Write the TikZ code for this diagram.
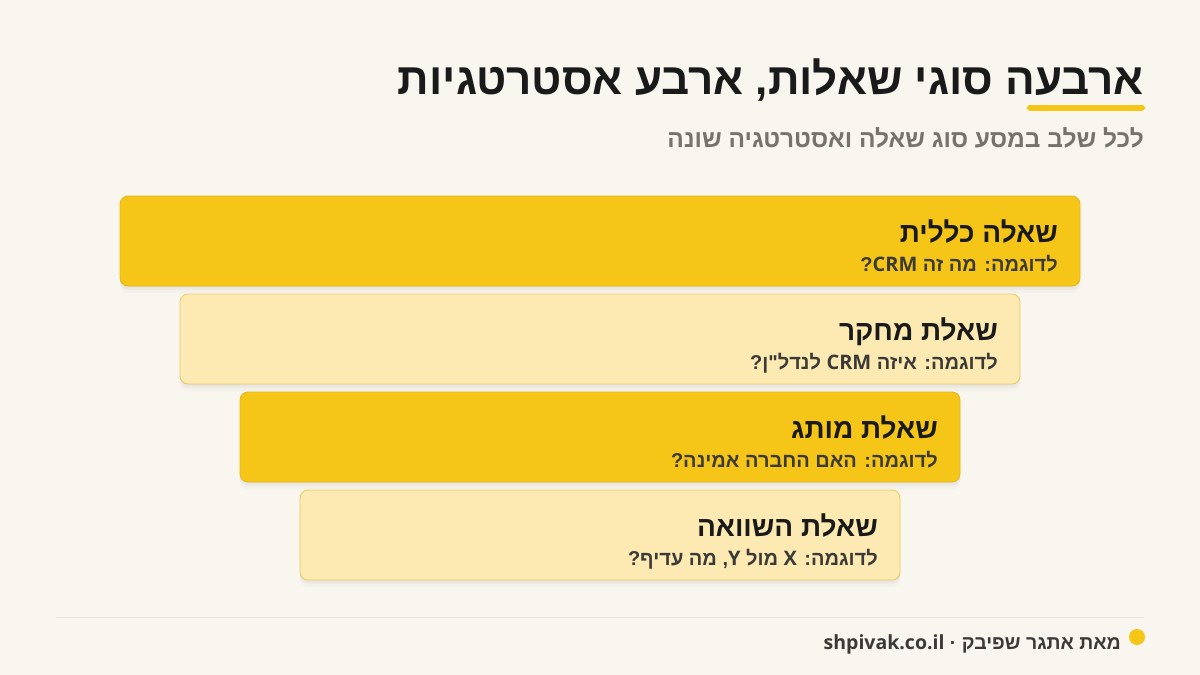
\documentclass[tikz,border=0pt]{standalone}
\usepackage{fontspec}
\setmainfont{Liberation Sans}
\newfontfamily\heb[Script=Hebrew]{Liberation Sans}
\newfontfamily\lat{Open Sans}
\TeXXeTstate=1
\usetikzlibrary{shadows}
\definecolor{bg}{HTML}{F9F6EF}
\definecolor{ydark}{HTML}{F5C518}
\definecolor{ydarkline}{HTML}{E6B717}
\definecolor{ylight}{HTML}{FCEAB2}
\definecolor{ylightline}{HTML}{EBCB5E}
\definecolor{ink}{HTML}{1A1A1A}
\definecolor{subink}{HTML}{3C3A36}
\definecolor{greyink}{HTML}{77726A}
\definecolor{rule}{HTML}{E6E2DA}
\tikzset{
  card/.style={rounded corners=8pt, line width=0.8pt, inner sep=0pt,
    drop shadow={opacity=0.05, shadow xshift=0pt, shadow yshift=-2pt},
    drop shadow={opacity=0.05, shadow xshift=0pt, shadow yshift=-4pt},
    drop shadow={opacity=0.04, shadow xshift=0pt, shadow yshift=-7pt}},
  carddark/.style={card, fill=ydark, draw=ydarkline},
  cardlight/.style={card, fill=ylight, draw=ylightline},
  cardtitle/.style={anchor=base east, inner sep=0pt, text=ink,
    font=\heb\bfseries\fontsize{28}{32}\selectfont},
  cardsub/.style={anchor=base east, inner sep=0pt, text=subink,
    font=\heb\bfseries\fontsize{20}{24}\selectfont},
}
\begin{document}
\begin{tikzpicture}[x=1pt,y=-1pt]
\fill[bg] (0,0) rectangle (1200,675);
\useasboundingbox (0,0) rectangle (1200,675);
% title
\node[anchor=base east, inner sep=0pt, text=ink, font=\heb\bfseries\fontsize{44}{50}\selectfont] (title) at (1144,94)
  {\beginR ארבעה סוגי שאלות, ארבע אסטרטגיות\endR};
\coordinate (ulA) at (1030,107.5);
\coordinate (ulB) at (1142,107.5);
\draw[ydark, line width=6pt, line cap=round] (ulA) -- (ulB);
\node[anchor=base east, inner sep=0pt, text=greyink, font=\heb\bfseries\fontsize{24.5}{28}\selectfont] (subtitle) at (1144,147)
  {\beginR לכל שלב במסע סוג שאלה ואסטרטגיה שונה\endR};
% cards
\node[carddark, minimum width=960pt, minimum height=90pt] (b1) at (600,241) {};
\node[cardlight, minimum width=840pt, minimum height=90pt] (b2) at (600,339) {};
\node[carddark, minimum width=720pt, minimum height=90pt] (b3) at (600,437) {};
\node[cardlight, minimum width=600pt, minimum height=90pt] (b4) at (600,535) {};
\node[cardtitle] (t1) at (1058,242) {\beginR שאלה כללית\endR};
\node[cardsub] (s1) at (1058,271) {\beginR לדוגמה: מה זה \beginL{\lat CRM}\endL?\endR};
\node[cardtitle] (t2) at (998,340) {\beginR שאלת מחקר\endR};
\node[cardsub] (s2) at (998,369) {\beginR לדוגמה: איזה \beginL{\lat CRM}\endL{} לנדל"ן?\endR};
\node[cardtitle] (t3) at (938,438) {\beginR שאלת מותג\endR};
\node[cardsub] (s3) at (938,467) {\beginR לדוגמה: האם החברה אמינה?\endR};
\node[cardtitle] (t4) at (878,536) {\beginR שאלת השוואה\endR};
\node[cardsub] (s4) at (878,565) {\beginR לדוגמה: {\lat X} מול {\lat Y}, מה עדיף?\endR};
% footer
\coordinate (rA) at (56,617);
\coordinate (rB) at (1144,617);
\draw[rule, line width=1pt] (rA) -- (rB);
\node[circle, fill=ydark, minimum size=16pt, inner sep=0pt] (dot) at (1137,637) {};
\node[anchor=base east, inner sep=0pt, text=subink, font=\heb\bfseries\fontsize{19.5}{22}\selectfont] (footer) at (1121,649)
  {\beginR מאת אתגר שפיבק · \beginL{\lat shpivak.co.il}\endL\endR};
\end{tikzpicture}
\end{document}
